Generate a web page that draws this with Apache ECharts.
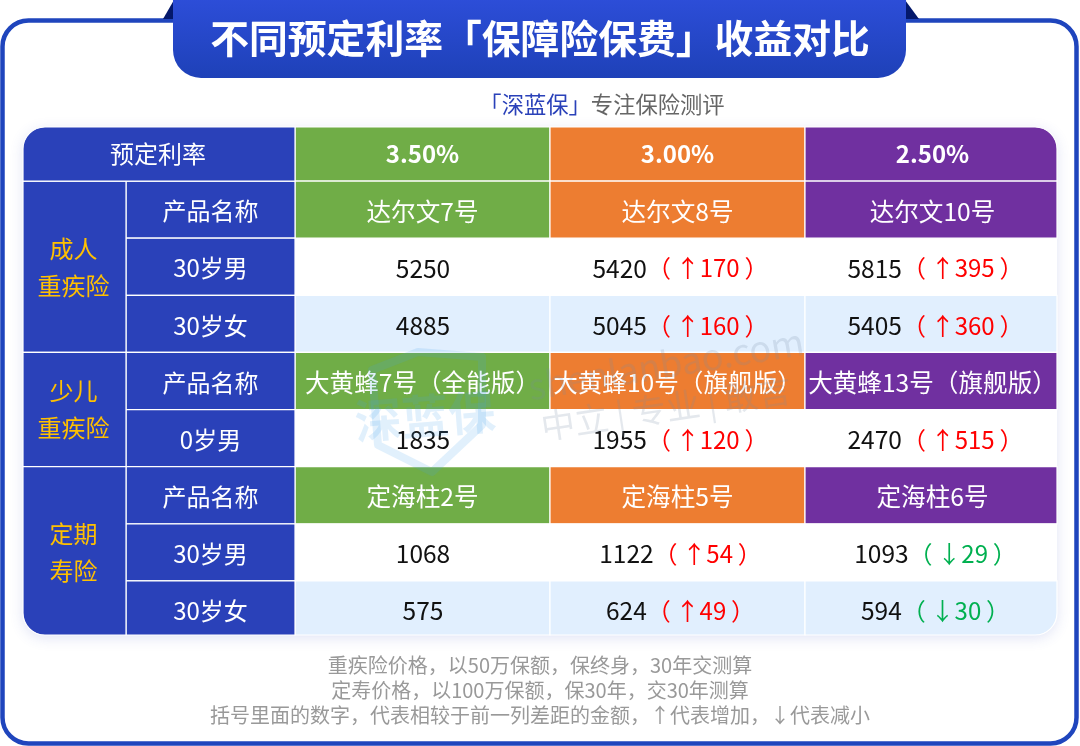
<!DOCTYPE html>
<html>
<head>
<meta charset="utf-8">
<style>html,body{margin:0;padding:0;background:#fff}#main{width:1080px;height:746px}</style>
<script src="https://cdn.jsdelivr.net/npm/echarts@6/dist/echarts.min.js"></script>
</head>
<body>
<div id="main"></div>
<script>
var rowNames = ['预定利率', '产品名称', '30岁男', '30岁女', '产品名称', '0岁男', '产品名称', '30岁男', '30岁女'];
var groupNames = ['成人\n重疾险', '少儿\n重疾险', '定期\n寿险'];
var groupFirstRow = [1, 4, 6];
var groupLastRow = [3, 5, 8];
var rates = ['3.50%', '3.00%', '2.50%'];
var adultProducts = ['达尔文7号', '达尔文8号', '达尔文10号'];
var childProducts = ['大黄蜂7号（全能版）', '大黄蜂10号（旗舰版）', '大黄蜂13号（旗舰版）'];
var termProducts = ['定海柱2号', '定海柱5号', '定海柱6号'];
var adultMale = [5250, 5420, 5815];
var adultMaleDiff = [null, 170, 395];
var adultFemale = [4885, 5045, 5405];
var adultFemaleDiff = [null, 160, 360];
var childMale = [1835, 1955, 2470];
var childMaleDiff = [null, 120, 515];
var termMale = [1068, 1122, 1093];
var termMaleDiff = [null, 54, -29];
var termFemale = [575, 624, 594];
var termFemaleDiff = [null, 49, -30];
var footnotes = [
    '重疾险价格，以50万保额，保终身，30年交测算',
    '定寿价格，以100万保额，保30年，交30年测算',
    '括号里面的数字，代表相较于前一列差距的金额，↑代表增加，↓代表减小'
];

var FONT = '"Noto Sans CJK SC", "Noto Sans", sans-serif';
var NAVY = '#2a41b9';
var columnColors = ['#70ad47', '#ed7d31', '#7030a0'];
var lightRows = {3: true, 8: true};
var groupShift = [-0.5, -1.5, 0];
var tableTop = 127, tableBottom = 635, tableLeft = 23, tableRight = 1057, cornerR = 22;

var priceRows = {2: [adultMale, adultMaleDiff], 3: [adultFemale, adultFemaleDiff], 5: [childMale, childMaleDiff],
    7: [termMale, termMaleDiff], 8: [termFemale, termFemaleDiff]};
var headRows = {0: rates, 1: adultProducts, 4: childProducts, 6: termProducts};

function diffText(d) {
    return d > 0 ? '（\u2009↑' + d + '\u2009）' : '（\u2009↓' + (-d) + '\u2009）';
}

// one cell: rect cut to the table outline, then its label in the middle
function cell(x0, x1, y0, y1, fill, text, textStyle, dx, dy2) {
    var top = Math.max(y0, tableTop), bottom = Math.min(y1, tableBottom), right = Math.min(x1, tableRight);
    var r = [0, 0, 0, 0];
    if (top === tableTop && x0 === tableLeft) r[0] = cornerR;
    if (top === tableTop && right === tableRight) r[1] = cornerR;
    if (bottom === tableBottom && right === tableRight) r[2] = cornerR;
    if (bottom === tableBottom && x0 === tableLeft) r[3] = cornerR;
    // first row text sits a little high, last row a little low
    var dy = top === tableTop ? 0 : (bottom === tableBottom && top > 560 ? 3 : 1.5);
    return {
        type: 'group',
        children: [{
            type: 'rect',
            shape: {x: x0, y: top, width: right - x0, height: bottom - top, r: r},
            style: {fill: fill, stroke: fill === '#fff' ? null : '#fff', lineWidth: 1.2}
        }, {
            type: 'text',
            x: (x0 + x1) / 2 - (x0 === tableLeft ? 1 : 0) + (dx || 0),
            y: (top + bottom) / 2 + dy + (dy2 || 0),
            style: Object.assign({text: text, align: 'center', verticalAlign: 'middle', fill: '#fff',
                font: '24px ' + FONT}, textStyle || {})
        }]
    };
}

function renderMain(params, api) {
    var c = api.value(0), r = api.value(1);
    var p = api.coord([c, r]), s = api.size([1, 1]);
    var x0 = p[0] - s[0] / 2, x1 = p[0] + s[0] / 2, y0 = p[1] - s[1] / 2, y1 = p[1] + s[1] / 2;
    if (headRows[r]) {
        return cell(x0, x1, y0, y1, columnColors[c], headRows[r][c], r === 0 ? {font: 'bold 24px ' + FONT} : {font: '24.6px ' + FONT});
    }
    var vals = priceRows[r], d = vals[1][c];
    var text = '{p|' + vals[0][c] + '}' + (d === null ? '' : (d > 0 ? '{u|' : '{n|') + diffText(d) + '}');
    return cell(x0, x1, y0, y1, lightRows[r] ? '#e1effe' : '#fff', text, {
        rich: {
            p: {fill: '#111', font: '24.5px ' + FONT},
            u: {fill: '#ff0000', font: '24px ' + FONT},
            n: {fill: '#00b050', font: '24px ' + FONT}
        }
    }, d === null ? 0.5 : 3);
}

function renderRowName(params, api) {
    var r = api.value(1);
    var p = api.coord([0, r]), s = api.size([1, 1]);
    return cell(p[0] - s[0] / 2, p[0] + s[0] / 2, p[1] - s[1] / 2, p[1] + s[1] / 2, NAVY, rowNames[r]);
}

function renderGroup(params, api) {
    var i = params.dataIndex;
    var a = api.coord([0, api.value(1)]), b = api.coord([0, api.value(2)]), s = api.size([1, 1]);
    return cell(a[0] - s[0] / 2, a[0] + s[0] / 2, a[1] - s[1] / 2, b[1] + s[1] / 2, NAVY, groupNames[i],
        {fill: '#ffc000', lineHeight: 37}, 0, groupShift[i]);
}

function renderRateHead(params, api) {
    var p = api.coord([0, 0]), s = api.size([1, 1]);
    return cell(p[0] - s[0] / 2, p[0] + s[0] / 2, p[1] - s[1] / 2, p[1] + s[1] / 2, NAVY, rowNames[0]);
}

// all grids share the same nine rows, they only differ in their columns
var grids = [[295, 1060], [126, 295], [23, 126], [23, 295]].map(function (g) {
    return {left: g[0], width: g[1] - g[0], top: 124, height: 514};
});
var xData = [rates, ['名称'], ['险种'], ['预定利率']];
var xAxes = xData.map(function (d, i) {
    return {type: 'category', gridIndex: i, data: d, show: false};
});
var yAxes = grids.map(function (g, i) {
    return {type: 'category', gridIndex: i, data: rowNames.map(function (n, k) { return k; }), inverse: true, show: false};
});

var mainData = [];
rowNames.forEach(function (n, r) {
    rates.forEach(function (v, c) { mainData.push([c, r]); });
});
var nameData = rowNames.slice(1).map(function (n, k) { return [0, k + 1]; });
var groupData = groupNames.map(function (n, i) { return [0, groupFirstRow[i], groupLastRow[i]]; });

function deco() {
    var items = [
        {type: 'rect', z: 0, shape: {x: 2.5, y: 20.5, width: 1074, height: 723, r: 26},
            style: {fill: '#fff', stroke: '#1f45bd', lineWidth: 4.5}},
        {type: 'polygon', z: 1, shape: {points: [[163, 19], [174, 0], [174, 19]]}, style: {fill: '#04186b'}},
        {type: 'polygon', z: 1, shape: {points: [[905, 0], [905, 19], [919, 19]]}, style: {fill: '#04186b'}},
        {type: 'rect', z: 2, shape: {x: 173, y: -30, width: 733, height: 108, r: 28},
            style: {fill: new echarts.graphic.LinearGradient(0, 0, 0, 1, [
                {offset: 0, color: '#3252e4'}, {offset: 1, color: '#1e41b8'}])}},
        {type: 'text', z: 3, x: 540, y: 38, style: {text: '不同预定利率「保障险保费」收益对比', align: 'center',
            verticalAlign: 'middle', fill: '#fff', font: 'bold 38.8px ' + FONT}},
        {type: 'text', z: 3, x: 602, y: 105, style: {text: '{a|「深蓝保」}{b|专注保险测评}', align: 'center', verticalAlign: 'middle',
            rich: {a: {fill: NAVY, font: '22.3px ' + FONT}, b: {fill: '#666', font: '22.3px ' + FONT}}}},
        {type: 'rect', z: 1, shape: {x: tableLeft, y: tableTop, width: tableRight - tableLeft, height: tableBottom - tableTop, r: cornerR},
            style: {fill: '#fff', shadowBlur: 14, shadowColor: 'rgba(60,80,190,0.16)', shadowOffsetY: 3}}
    ];
    footnotes.forEach(function (t, i) {
        items.push({type: 'text', z: 3, x: 540, y: 665 + i * 25, style: {text: t, align: 'center', verticalAlign: 'middle',
            fill: '#999', font: '20px ' + FONT}});
    });
    return items;
}

function watermark() {
    var col = 'rgba(120,140,165,0.2)', blue = 'rgba(70,160,235,0.16)';
    return [
        {type: 'text', z: 60, x: 666, y: 364, rotation: 0.165, style: {text: 'shenlanbao.com', align: 'center', verticalAlign: 'middle',
            fill: col, font: '36px ' + FONT}},
        {type: 'text', z: 60, x: 666, y: 408, rotation: 0.15, style: {text: '中立 | 专业 | 敢言', align: 'center', verticalAlign: 'middle',
            fill: col, font: '34px ' + FONT}},
        {type: 'polygon', z: 60, shape: {points: [[372, 370], [418, 352], [482, 357], [482, 425], [432, 472], [378, 445]]},
            style: {fill: null, stroke: blue, lineWidth: 8, lineJoin: 'round'}},
        {type: 'text', z: 60, x: 425, y: 416, rotation: 0.08, style: {text: '深蓝保', align: 'center', verticalAlign: 'middle',
            fill: blue, font: 'bold 47px ' + FONT}}
    ];
}

var chart = echarts.init(document.getElementById('main'), null, {renderer: 'canvas'});
chart.setOption({
    animation: false,
    grid: grids,
    xAxis: xAxes,
    yAxis: yAxes,
    graphic: {elements: deco().concat(watermark())},
    series: [
        {type: 'custom', xAxisIndex: 0, yAxisIndex: 0, z: 10, clip: false, data: mainData, renderItem: renderMain},
        {type: 'custom', xAxisIndex: 1, yAxisIndex: 1, z: 10, clip: false, data: nameData, renderItem: renderRowName},
        {type: 'custom', xAxisIndex: 2, yAxisIndex: 2, z: 10, clip: false, data: groupData, renderItem: renderGroup},
        {type: 'custom', xAxisIndex: 3, yAxisIndex: 3, z: 10, clip: false, data: [[0, 0]], renderItem: renderRateHead}
    ]
});
</script>
</body>
</html>
